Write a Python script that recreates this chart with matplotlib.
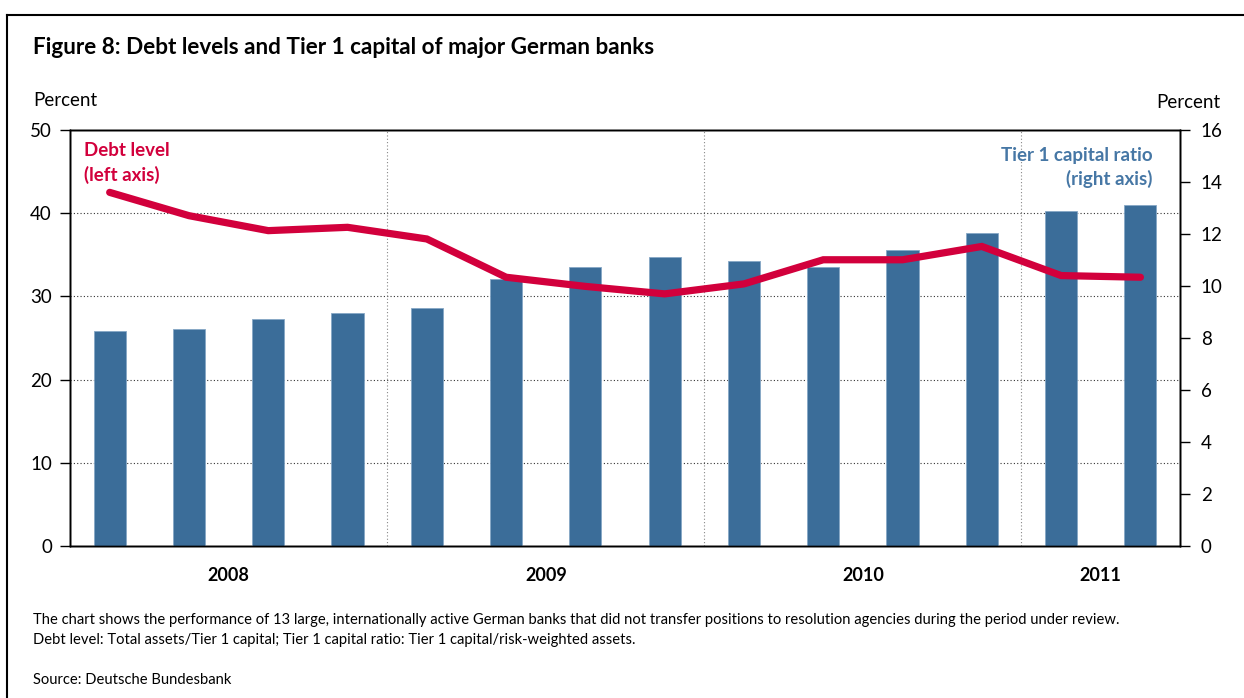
import numpy as np
import matplotlib
matplotlib.use("Agg")
import matplotlib.pyplot as plt
from matplotlib.lines import Line2D

plt.rcParams["font.family"] = ["Lato", "DejaVu Sans"]

# quarterly data 2008 Q1 - 2011 Q2
quarters = ["2008Q1", "2008Q2", "2008Q3", "2008Q4",
            "2009Q1", "2009Q2", "2009Q3", "2009Q4",
            "2010Q1", "2010Q2", "2010Q3", "2010Q4",
            "2011Q1", "2011Q2"]
debt_level = [42.5, 39.7, 37.9, 38.3, 36.9, 32.3, 31.2, 30.3,
              31.5, 34.4, 34.4, 36.0, 32.5, 32.3]
tier1_ratio = [8.27, 8.35, 8.72, 8.95, 9.17, 10.27, 10.73, 11.10,
               10.95, 10.73, 11.38, 12.05, 12.88, 13.10]
years = ["2008", "2009", "2010", "2011"]
year_quarters = [4, 4, 4, 2]

red = "#d2003c"
blue = "#3b6d99"
x = np.arange(len(quarters))

fig = plt.figure(figsize=(12.44, 6.98), dpi=100)
ax = fig.add_axes([0.0563, 0.2178, 0.8923, 0.596])
ax2 = ax.twinx()
ax3 = ax.twinx()

# left axis: grid + year separators
ax.set_ylim(0, 50)
ax.set_yticks([0, 10, 20, 30, 40, 50])
ax.set_xlim(-0.5, len(quarters) - 0.5)
for v in [10, 20, 30, 40]:
    ax.axhline(v, color="#333333", lw=0.8, ls=(0, (1, 2)), zorder=0)
bounds = np.cumsum(year_quarters)[:-1] - 0.5
for b in bounds:
    ax.axvline(b, color="#888888", lw=0.8, ls=(0, (1, 2)), zorder=0)

# right axis: bars
ax2.bar(x, tier1_ratio, width=0.405, color=blue, edgecolor="#86a7c6", lw=0.6, zorder=2)
ax2.set_ylim(0, 16)
ax2.set_yticks(range(0, 17, 2))

# line on top, left scale
ax3.plot(x, debt_level, color=red, lw=5.2, solid_capstyle="round", solid_joinstyle="miter")
ax3.set_ylim(0, 50)
ax3.set_yticks([])

for a in (ax, ax2, ax3):
    a.patch.set_visible(False)
    for s in a.spines.values():
        s.set_color("black")
        s.set_linewidth(1.0)
ax.tick_params(axis="y", direction="out", length=7, width=1, labelsize=13.5, pad=6)
ax2.tick_params(axis="y", direction="out", length=7, width=1, labelsize=13.5, pad=8)
ax3.tick_params(axis="y", length=0)
ax.tick_params(axis="x", length=0)
ax.set_xticks([])

# year labels
starts = np.concatenate([[0], np.cumsum(year_quarters)[:-1]])
for yr, s, n in zip(years, starts, year_quarters):
    ax.text(s + (n - 1) / 2, -0.07, yr, transform=ax.get_xaxis_transform(),
            ha="center", va="center", fontsize=13, fontweight="bold")

ax.text(-0.33, 48.5, "Debt level\n(left axis)", color=red, fontsize=13.5,
        fontweight="bold", va="top", ha="left", linespacing=1.4)
ax.text(13.15, 48.0, "Tier 1 capital ratio\n(right axis)", color="#4677a5", fontsize=13.5,
        fontweight="bold", va="top", ha="right", linespacing=1.4)

# titles and notes
fig.text(33 / 1244, 1 - 48 / 698, "Figure 8: Debt levels and Tier 1 capital of major German banks",
         fontsize=16.2, fontweight="bold", va="center", ha="left")
fig.text(33 / 1244, 1 - 100 / 698, "Percent", fontsize=13.5, va="center", ha="left")
fig.text(1220 / 1244, 1 - 103 / 698, "Percent", fontsize=13.5, va="center", ha="right")
fig.text(33 / 1244, 1 - 620 / 698,
         "The chart shows the performance of 13 large, internationally active German banks that did not transfer positions to resolution agencies during the period under review.",
         fontsize=10.6, va="center", ha="left")
fig.text(33 / 1244, 1 - 640 / 698,
         "Debt level: Total assets/Tier 1 capital; Tier 1 capital ratio: Tier 1 capital/risk-weighted assets.",
         fontsize=10.6, va="center", ha="left")
fig.text(33 / 1244, 1 - 680 / 698, "Source: Deutsche Bundesbank", fontsize=10.6, va="center", ha="left")

# outer frame
fx = 7.5 / 1244
fy = 1 - 14.5 / 698
fig.add_artist(Line2D([fx, fx], [0, fy], color="black", lw=1.5, transform=fig.transFigure))
fig.add_artist(Line2D([fx, 1], [fy, fy], color="black", lw=1.5, transform=fig.transFigure))

fig.savefig("out.png", dpi=100)
